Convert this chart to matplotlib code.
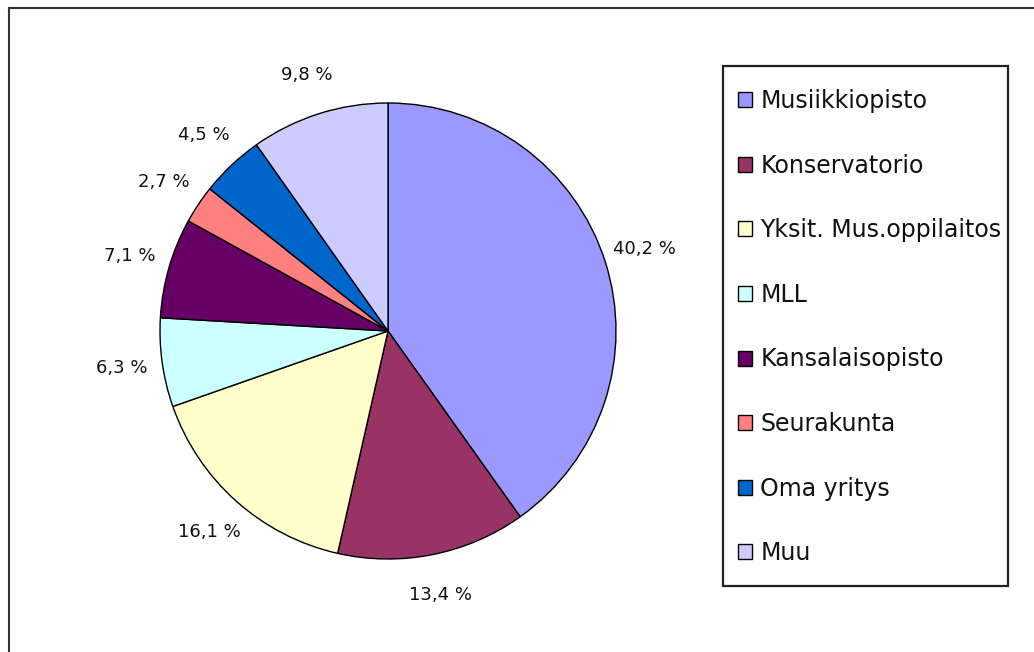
import matplotlib
matplotlib.use("Agg")
import matplotlib.pyplot as plt
from matplotlib.patches import Patch, Rectangle
from matplotlib.lines import Line2D

categories = ["Musiikkiopisto", "Konservatorio", "Yksit. Mus.oppilaitos", "MLL",
              "Kansalaisopisto", "Seurakunta", "Oma yritys", "Muu"]
values = [40.2, 13.4, 16.1, 6.3, 7.1, 2.7, 4.5, 9.8]
colors = ["#9999FF", "#993366", "#FFFFCC", "#CCFFFF", "#660066", "#FF8080", "#0066CC", "#CCCCFF"]
value_labels = [f"{v:.1f} %".replace(".", ",") for v in values]

plt.rcParams['font.family'] = ['DejaVu Sans']
W, H = 1034, 652
fig = plt.figure(figsize=(W / 100, H / 100), dpi=100)

cx, cy, r = 388, 331, 228
ax = fig.add_axes([(cx - r) / W, (H - cy - r) / H, 2 * r / W, 2 * r / H])
wedges, texts = ax.pie(values, colors=colors, startangle=90, counterclock=False,
                       labels=value_labels, labeldistance=1.18,
                       wedgeprops=dict(edgecolor="black", linewidth=1.0),
                       textprops=dict(fontsize=13, color="#111111"))
for t in texts:
    t.set_ha("center")
    t.set_va("center")
ax.set_xlim(-1, 1)
ax.set_ylim(-1, 1)
ax.set_aspect("equal")
ax.axis("off")

# legend frame
fig.add_artist(Rectangle((723 / W, 1 - 586 / H), (1008 - 723) / W, (586 - 66) / H,
                         transform=fig.transFigure, facecolor="white",
                         edgecolor="#222222", linewidth=1.6, zorder=1))

handles = [Patch(facecolor=c, edgecolor="black", linewidth=1.0) for c in colors]
leg = fig.legend(handles, categories, loc="upper left",
                 bbox_to_anchor=(738 / W, 1 - 89 / H), borderaxespad=0,
                 fontsize=17, frameon=False,
                 labelspacing=1.72, handlelength=0.6, handleheight=0.6,
                 handletextpad=0.35, borderpad=0)
leg.set_zorder(3)
for t in leg.get_texts():
    t.set_color("#111111")

# outer chart border (top and left visible)
fig.add_artist(Line2D([9 / W, 1.0], [1 - 8 / H, 1 - 8 / H], transform=fig.transFigure,
                      color="#333333", linewidth=1.5))
fig.add_artist(Line2D([9 / W, 9 / W], [0, 1 - 8 / H], transform=fig.transFigure,
                      color="#333333", linewidth=1.5))

fig.savefig("out.png", dpi=100)
